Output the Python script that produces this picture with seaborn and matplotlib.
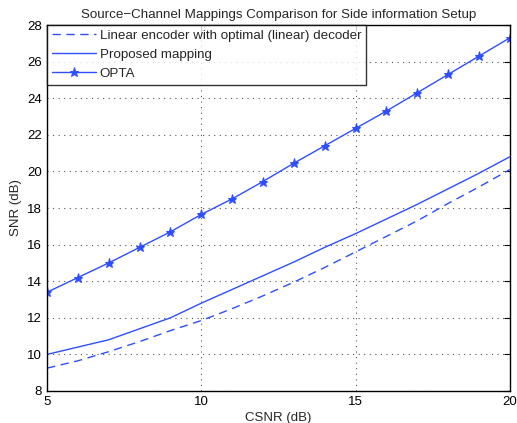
import matplotlib
matplotlib.use("Agg")
import matplotlib.pyplot as plt
import seaborn as sns
import pandas as pd

csnr_linear = [5, 6, 7, 8, 9, 10, 11, 12, 13, 14, 15, 16, 17, 18, 19, 20]
snr_linear = [9.25, 9.65, 10.15, 10.7, 11.3, 11.85, 12.5, 13.2, 13.95, 14.75, 15.6, 16.45, 17.3, 18.25, 19.15, 20.1]

csnr_proposed = [5, 7, 9, 10, 11, 12, 13, 14, 15, 16, 17, 18, 19, 20]
snr_proposed = [10.0, 10.8, 12.0, 12.8, 13.55, 14.3, 15.05, 15.85, 16.6, 17.4, 18.2, 19.05, 19.9, 20.8]

csnr_opta = [5, 6, 7, 8, 9, 10, 11, 12, 13, 14, 15, 16, 17, 18, 19, 20]
snr_opta = [13.4, 14.2, 15.0, 15.85, 16.7, 17.65, 18.5, 19.45, 20.45, 21.4, 22.35, 23.3, 24.3, 25.3, 26.3, 27.3]

labels = ["Linear encoder with optimal (linear) decoder", "Proposed mapping", "OPTA"]
title = "Source\u2212Channel Mappings Comparison for Side information Setup"
xlabel = "CSNR (dB)"
ylabel = "SNR (dB)"
xticks = [5, 10, 15, 20]
yticks = [8, 10, 12, 14, 16, 18, 20, 22, 24, 26, 28]

sns.set_style("white")
plt.rcParams["font.family"] = ["Liberation Sans", "DejaVu Sans"]

df_lin = pd.DataFrame({"x": csnr_linear, "y": snr_linear})
df_pro = pd.DataFrame({"x": csnr_proposed, "y": snr_proposed})
df_opt = pd.DataFrame({"x": csnr_opta, "y": snr_opta})

color = "#2f4fff"
fig = plt.figure(figsize=(5.17, 4.23), dpi=100)
ax = fig.add_axes([0.091, 0.0757, 0.895, 0.865])

sns.lineplot(data=df_lin, x="x", y="y", ax=ax, color=color, lw=1.0,
             linestyle=(0, (6, 4)), label=labels[0])
sns.lineplot(data=df_pro, x="x", y="y", ax=ax, color=color, lw=1.0, label=labels[1])
sns.lineplot(data=df_opt, x="x", y="y", ax=ax, color=color, lw=1.0, marker="*",
             markersize=6.5, markeredgecolor=color, label=labels[2])

ax.set_xlim(5, 20)
ax.set_ylim(8, 28)
ax.set_xticks(xticks)
ax.set_yticks(yticks)
ax.tick_params(direction="in", top=True, right=True, length=4, labelsize=9.5, width=0.8, colors="black")
ax.grid(True, linestyle=(0, (1, 4)), color="#555555", lw=0.8)
for s in ax.spines.values():
    s.set_color("black")
    s.set_linewidth(1.0)
ax.set_title(title, fontsize=9.6, pad=5)
ax.set_xlabel(xlabel, fontsize=9.5, labelpad=3)
ax.set_ylabel(ylabel, fontsize=9.5, labelpad=4)

leg = ax.legend(loc="upper left", fontsize=9.6, frameon=True, fancybox=False,
                borderaxespad=0.0, handlelength=3.3, handletextpad=0.3,
                labelspacing=0.5, borderpad=0.35)
leg.get_frame().set_edgecolor("black")
leg.get_frame().set_linewidth(1.0)

fig.savefig("out.png", dpi=100)
